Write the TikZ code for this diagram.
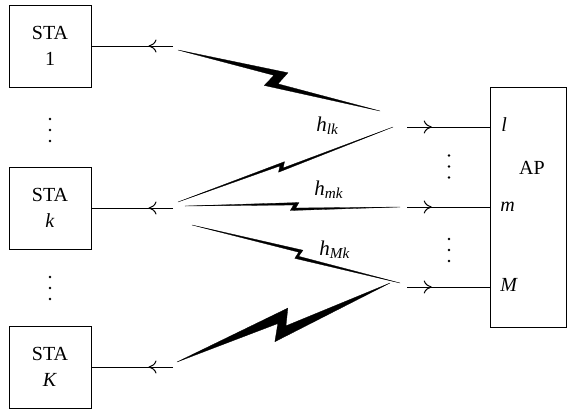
\documentclass[tikz,border=0pt]{standalone}
\usepackage{fontspec}
\setmainfont{Liberation Serif}
\usetikzlibrary{calc,arrows.meta,decorations.markings}
\newcommand\chan[2]{{\fontsize{10.5}{12}\selectfont\textit{#1}\raisebox{-0.35ex}{\fontsize{7.6}{9}\selectfont\textit{#2}}}}
\begin{document}
\begin{tikzpicture}[x=0.5pt,y=-0.5pt, font=\fontsize{10}{13.3}\selectfont,
  box/.style={draw, line width=0.5pt, minimum width=41pt, minimum height=41pt, align=center, inner sep=0pt},
  wire/.style={line width=0.5pt, postaction={decorate},
    decoration={markings, mark=at position 0.3 with {\arrow{Computer Modern Rightarrow[length=4pt,width=6.5pt]}}}},
  lab/.style={anchor=base west, inner sep=0pt},
  bolt/.style={fill=black, draw=black, line width=0.15pt, line join=round}]
\useasboundingbox (0,0) rectangle (567,409);
% stations
\node[box] (sta1) at (50,46) {STA\\1};
\node[box] (stak) at (50,208) {STA\\\textit{k}};
\node[box] (staK) at (50,367) {STA\\\textit{K}};
% access point
\node[draw, line width=0.5pt, minimum width=38pt, minimum height=120pt, inner sep=0pt] (ap) at (528,207) {};
\node (aplab) at (532,168) {AP};
\node[lab] (pll) at (501,131.5) {\textit{l}};
\node[lab] (plm) at (500,211) {\textit{m}};
\node[lab] (plM) at (500,291.5) {\textit{M}};
% wire ends
\coordinate (e1) at (173,46);
\coordinate (ek) at (173,208);
\coordinate (eK) at (173,367);
\coordinate (pl) at (407,127);
\coordinate (pm) at (407,207);
\coordinate (pM) at (407,287);
\draw[wire] (e1) -- (sta1.east);
\draw[wire] (ek) -- (stak.east);
\draw[wire] (eK) -- (staK.east);
\draw[wire] (pl) -- (pl -| ap.west);
\draw[wire] (pm) -- (pm -| ap.west);
\draw[wire] (pM) -- (pM -| ap.west);
% dots
\foreach \x/\y in {50/130, 50/288, 449/166.5, 449/250}
  \foreach \d in {-11,0,11}
    \fill (\x,\y+\d) circle (0.65pt);
% bolts
\coordinate (b1a) at (178,50);  \coordinate (b1b) at (380,111);
\coordinate (bKa) at (177,362); \coordinate (bKb) at (390,283);
\coordinate (bla) at (178,202); \coordinate (blb) at (393,127);
\coordinate (bma) at (185,206); \coordinate (bmb) at (400,207);
\coordinate (bMa) at (192,225); \coordinate (bMb) at (400,283);
\foreach \a/\b/\ta/\na/\tb/\nb/\tc/\nc/\td/\nd in {
  b1a/b1b/0.53/10/0.50/-3.5/0.44/-9/0.47/3.5,
  bKa/bKb/0.54/12/0.505/-4/0.435/-15/0.475/1,
  bla/blb/0.50/3/0.485/-2.5/0.46/-5/0.475/0.5,
  bma/bmb/0.53/4/0.515/-1.5/0.49/-4/0.505/1.5,
  bMa/bMb/0.526/5.5/0.515/-1.5/0.50/-4.5/0.51/2.5}
  \filldraw[bolt] (\a) -- ($(\a)!\ta!(\b)!\na*0.5pt!90:(\b)$)
     -- ($(\a)!\tb!(\b)!\nb*0.5pt!90:(\b)$) -- (\b)
     -- ($(\a)!\tc!(\b)!\nc*0.5pt!90:(\b)$)
     -- ($(\a)!\td!(\b)!\nd*0.5pt!90:(\b)$) -- cycle;
% channel labels
\node[lab] (hlk) at (316,131.5) {\chan{h}{lk}};
\node[lab] (hmk) at (314,195) {\chan{h}{mk}};
\node[lab] (hMk) at (319,255) {\chan{h}{Mk}};
\end{tikzpicture}
\end{document}
